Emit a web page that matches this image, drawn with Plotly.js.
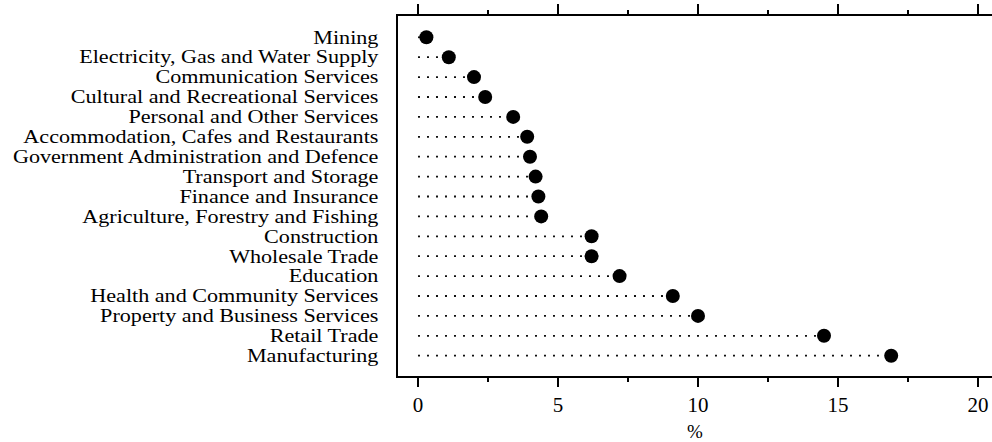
<!DOCTYPE html>
<html>
<head>
<meta charset="utf-8">
<script src="https://cdn.plot.ly/plotly-3.0.1.min.js"></script>
<style>html,body{margin:0;padding:0;background:#fff;}#chart{width:992px;height:442px;}</style>
</head>
<body>
<div id="chart"></div>
<script>
const industries = [
  "Mining",
  "Electricity, Gas and Water Supply",
  "Communication Services",
  "Cultural and Recreational Services",
  "Personal and Other Services",
  "Accommodation, Cafes and Restaurants",
  "Government Administration and Defence",
  "Transport and Storage",
  "Finance and Insurance",
  "Agriculture, Forestry and Fishing",
  "Construction",
  "Wholesale Trade",
  "Education",
  "Health and Community Services",
  "Property and Business Services",
  "Retail Trade",
  "Manufacturing"
];
const percent = [0.3, 1.1, 2.0, 2.4, 3.4, 3.9, 4.0, 4.2, 4.3, 4.4, 6.2, 6.2, 7.2, 9.1, 10.0, 14.5, 16.9];
const xTicks = [0, 5, 10, 15, 20];

const segX = [], segY = [];
industries.forEach((c, i) => { segX.push(0, percent[i], null); segY.push(c, c, null); });

const serif = "Liberation Serif, Times New Roman, serif";

const traces = [
  {x: segX, y: segY, type: 'scatter', mode: 'lines', hoverinfo: 'skip',
   line: {color: '#111', width: 1.8, dash: '2px,7px'}, showlegend: false},
  {x: percent, y: industries, type: 'scatter', mode: 'markers',
   marker: {color: '#000', size: 14}, showlegend: false},
  {x: [0], y: [industries[0]], xaxis: 'x2', type: 'scatter', mode: 'markers',
   marker: {opacity: 0}, hoverinfo: 'skip', showlegend: false}
];

const xr = [-0.714, 20.5];
const layout = {
  width: 992, height: 442,
  margin: {l: 398, r: 0, t: 16, b: 66},
  paper_bgcolor: '#fff', plot_bgcolor: '#fff',
  font: {family: serif, color: '#000', size: 18},
  xaxis: {
    range: xr, tickmode: 'array', tickvals: xTicks, ticktext: xTicks.map(String),
    showgrid: false, zeroline: false, showline: true, linecolor: '#000', linewidth: 2,
    ticks: 'outside', ticklen: 9, tickwidth: 2, tickcolor: '#000',
    minor: {dtick: 2.5, tick0: 0, ticks: 'outside', ticklen: 4, tickwidth: 2, tickcolor: '#000', showgrid: false},
    tickfont: {family: serif, size: 21, color: '#000'},
    title: {text: '%', font: {family: serif, size: 19, color: '#000'}, standoff: 9}
  },
  xaxis2: {
    range: xr, overlaying: 'x', side: 'top', tickmode: 'array', tickvals: xTicks,
    showgrid: false, zeroline: false, showline: true, linecolor: '#000', linewidth: 2,
    ticks: 'outside', ticklen: 10, tickwidth: 2, tickcolor: '#000',
    minor: {dtick: 2.5, tick0: 0, ticks: 'outside', ticklen: 4, tickwidth: 2, tickcolor: '#000', showgrid: false},
    showticklabels: false
  },
  yaxis: {
    type: 'category', categoryorder: 'array', categoryarray: industries,
    tickmode: 'array', tickvals: industries, ticktext: industries,
    range: [17.02, -1.07], autorange: false,
    showgrid: false, zeroline: false, showline: true, linecolor: '#000', linewidth: 2,
    ticks: '', ticklabelstandoff: 14,
    tickfont: {family: serif, size: 18, color: '#000'}
  }
};

Plotly.newPlot('chart', traces, layout, {staticPlot: true, displayModeBar: false}).then(gd => {
  // the reference lettering is horizontally stretched; widen labels about their right edge
  gd.querySelectorAll('.ytick text').forEach(t => {
    const bb = t.getBBox();
    const xe = bb.x + bb.width;
    const prev = t.getAttribute('transform') || '';
    t.setAttribute('transform', prev + ' translate(' + xe + ',0) scale(1.23,1) translate(' + (-xe) + ',0)');
  });
});
</script>
</body>
</html>
